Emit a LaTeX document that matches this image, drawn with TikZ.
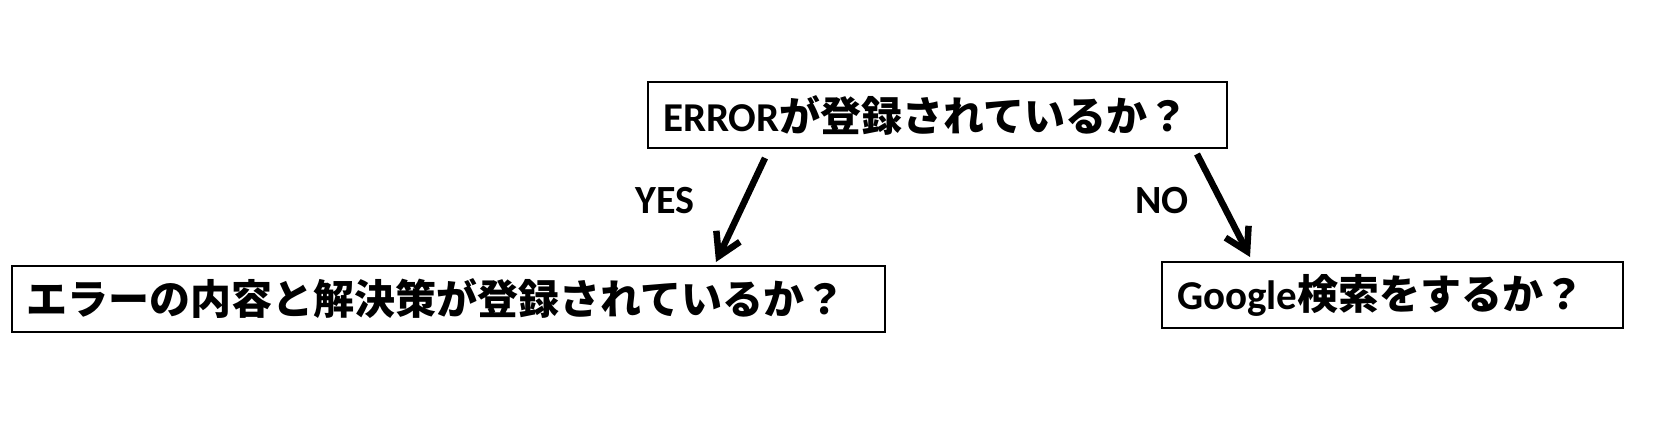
\documentclass[tikz,border=0pt]{standalone}
\usepackage{fontspec}
\setmainfont{Carlito}
\newfontfamily\jp{Noto Sans CJK JP}
\usetikzlibrary{arrows.meta}

\tikzset{
    qbox/.style={draw, line width=2pt, anchor=north west, inner xsep=15pt, inner ysep=0pt,
        align=left, minimum height=66pt, font=\fontsize{41}{48}\selectfont\bfseries},
    answer/.style={font=\fontsize{40}{46}\selectfont\bfseries},
    flow/.style={line width=6.5pt, -{Straight Barb[length=22pt, width=26pt, line width=6.5pt]}}
}

\begin{document}
\begin{tikzpicture}[x=1pt,y=-1pt]
    \useasboundingbox (0,0) rectangle (1670,433);

    % Question boxes
    \node[qbox, text width=549pt] (question) at (647,81) {ERROR{\jp が登録されているか？}};
    \node[qbox, text width=843pt] (check) at (11,265) {{\jp エラーの内容と解決策が登録されているか？}};
    \node[qbox, text width=431pt] (google) at (1161,261) {Google{\jp 検索をするか？}};

    % Arrows
    \draw[flow] ([xshift=118pt,yshift=-9pt]question.south west) -- ([xshift=-170pt,yshift=3pt]check.north east);
    \draw[flow] ([xshift=-31pt,yshift=-5pt]question.south east) -- ([xshift=89pt,yshift=4pt]google.north west);

    % Labels
    \node[answer] (yes) at (665,201) {YES};
    \node[answer] (no) at (1162,201) {NO};
\end{tikzpicture}
\end{document}
